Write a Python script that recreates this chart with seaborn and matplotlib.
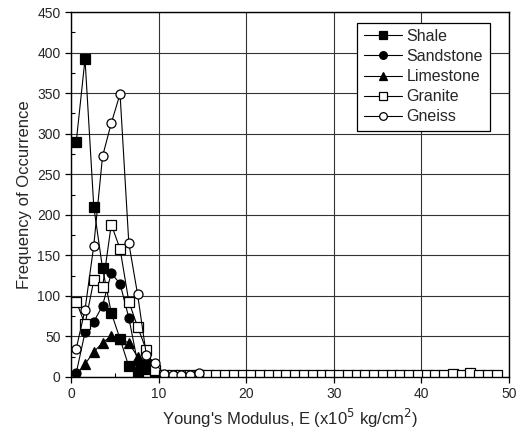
import numpy as np
import pandas as pd
import matplotlib
matplotlib.use('Agg')
import matplotlib.pyplot as plt
from matplotlib.ticker import MultipleLocator
import seaborn as sns

# - data - #
E_main = [0.6, 1.6, 2.6, 3.6, 4.6, 5.6, 6.6, 7.6, 8.6, 9.6]
shale     = [290, 392, 210, 134, 79, 47, 13, 6, 15, 2]
sandstone = [5, 55, 68, 88, 128, 115, 73, 18, 17, 3]
limestone = [2, 16, 31, 42, 51, 47, 42, 25, 10, 1]
granite   = [93, 65, 119, 111, 188, 158, 93, 62, 33, 9]
gneiss    = [35, 83, 162, 272, 313, 349, 165, 102, 27, 17]

E_gneiss_tail = [10.6, 11.6, 12.6, 13.6, 14.6]
gneiss_tail   = [4, 3, 3, 3, 5]

E_granite_tail = [10.6 + i for i in range(39)]
granite_tail = [2, 2, 2, 2, 2, 2, 2, 2, 2, 2,
                2, 2, 2, 2, 2, 2, 2, 2, 2, 2,
                2, 2, 2, 2, 2, 2, 2, 2, 2, 2,
                2, 2, 3, 4, 2, 5, 2, 2, 3]

sns.set_style('white')
plt.rcParams['font.family'] = ['Liberation Sans', 'DejaVu Sans']

fig = plt.figure(figsize=(5.27, 4.42), dpi=100)
ax = fig.add_axes([71/527, 1-377/442, (509-71)/527, (377-12)/442])

series = [
    ('Shale', E_main, shale, 's', 'black'),
    ('Sandstone', E_main, sandstone, 'o', 'black'),
    ('Limestone', E_main, limestone, '^', 'black'),
    ('Granite', E_main + E_granite_tail, granite + granite_tail, 's', 'white'),
    ('Gneiss', E_main + E_gneiss_tail, gneiss + gneiss_tail, 'o', 'white'),
]

for name, xs, ys, mk, fc in series:
    sns.lineplot(x=xs, y=ys, ax=ax, color='black', lw=0.8, marker=mk,
                 markersize=6.5, markerfacecolor=fc, markeredgecolor='black',
                 markeredgewidth=0.9, label=name, sort=False)

ax.set_xlim(0, 50)
ax.set_ylim(0, 450)
ax.xaxis.set_major_locator(MultipleLocator(10))
ax.xaxis.set_minor_locator(MultipleLocator(5))
ax.yaxis.set_major_locator(MultipleLocator(50))
ax.yaxis.set_minor_locator(MultipleLocator(25))
ax.grid(True, which='major', color='#333333', lw=0.8)
ax.tick_params(which='major', direction='out', length=4, width=0.9, labelsize=10, color='black')
ax.tick_params(which='minor', direction='in', length=3, width=0.8, color='black')
ax.tick_params(bottom=True, left=True, which='both')
for s in ax.spines.values():
    s.set_color('black')
    s.set_linewidth(1.0)

ax.set_xlabel("Young's Modulus, E (x10$^5$ kg/cm$^2$)", fontsize=12)
ax.set_ylabel('Frequency of Occurrence', fontsize=12)

leg = ax.legend(loc='upper right', bbox_to_anchor=(0.974, 0.993), fontsize=11.5,
                frameon=True, fancybox=False, edgecolor='black', framealpha=1,
                handlelength=2.4, handletextpad=0.3, borderpad=0.4, labelspacing=0.32,
                markerscale=0.85)
leg.get_frame().set_linewidth(0.9)

fig.savefig('out.png', dpi=100)
